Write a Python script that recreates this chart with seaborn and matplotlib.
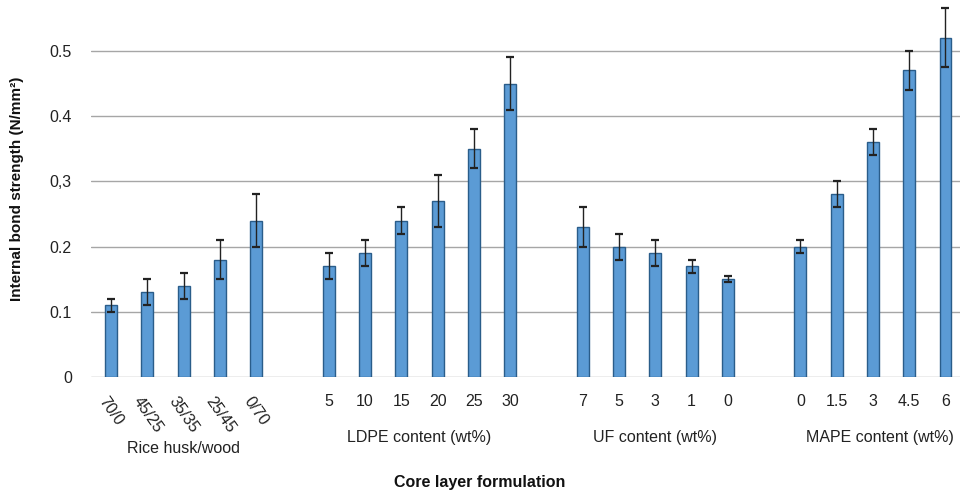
import numpy as np
import pandas as pd
import matplotlib
matplotlib.use("Agg")
import matplotlib.pyplot as plt
import seaborn as sns

# four formulation groups
rice_labels = ["70/0", "45/25", "35/35", "25/45", "0/70"]
rice_values = [0.11, 0.13, 0.14, 0.18, 0.24]
rice_errors = [0.01, 0.02, 0.02, 0.03, 0.04]

ldpe_labels = ["5", "10", "15", "20", "25", "30"]
ldpe_values = [0.17, 0.19, 0.24, 0.27, 0.35, 0.45]
ldpe_errors = [0.02, 0.02, 0.02, 0.04, 0.03, 0.04]

uf_labels = ["7", "5", "3", "1", "0"]
uf_values = [0.23, 0.20, 0.19, 0.17, 0.15]
uf_errors = [0.03, 0.02, 0.02, 0.01, 0.005]

mape_labels = ["0", "1.5", "3", "4.5", "6"]
mape_values = [0.20, 0.28, 0.36, 0.47, 0.52]
mape_errors = [0.01, 0.02, 0.02, 0.03, 0.045]

group_names = ["Rice husk/wood", "LDPE content (wt%)", "UF content (wt%)", "MAPE content (wt%)"]
y_ticks = [0, 0.1, 0.2, 0.3, 0.4, 0.5]
y_ticklabels = ["0", "0.1", "0.2", "0,3", "0.4", "0.5"]

groups = [
    (rice_labels, rice_values, rice_errors),
    (ldpe_labels, ldpe_values, ldpe_errors),
    (uf_labels, uf_values, uf_errors),
    (mape_labels, mape_values, mape_errors),
]

# one empty slot between groups
rows = []
pos = 0
for g, (labels, values, errors) in enumerate(groups):
    for lab, v, e in zip(labels, values, errors):
        rows.append({"pos": pos, "label": lab, "value": v, "err": e, "group": g})
        pos += 1
    pos += 1
df = pd.DataFrame(rows)

sns.set_style("white")
plt.rcParams["font.family"] = ["Liberation Sans", "DejaVu Sans"]

fig = plt.figure(figsize=(9.6, 4.91), dpi=100)
ax = fig.add_axes([0.095, 0.232, 0.905, 0.768])

sns.barplot(data=df, x="pos", y="value", native_scale=True, width=0.33,
            color="#5B9BD5", edgecolor="#2A5D8A", linewidth=1.0,
            saturation=1, errorbar=None, ax=ax, zorder=3)
ax.errorbar(df["pos"], df["value"], yerr=df["err"], fmt="none",
            ecolor="#222222", elinewidth=1.0, capsize=3, capthick=1.6, zorder=4)

ax.set_xlim(-0.55, df["pos"].max() + 0.4)
ax.set_ylim(0, 0.578)
ax.set_yticks(y_ticks)
ax.set_yticklabels(y_ticklabels, fontsize=11.5, color="#222222")
ax.yaxis.grid(True, color="#A6A6A6", linewidth=1.0, zorder=0)
ax.set_axisbelow(True)
for s in ax.spines.values():
    s.set_visible(False)
ax.tick_params(axis="y", length=0, pad=14)
ax.tick_params(axis="x", length=0, pad=12)

ax.set_xticks(df["pos"])
ax.set_xticklabels(df["label"], fontsize=11.5, color="#222222")
for t, g in zip(ax.get_xticklabels(), df["group"]):
    if g == 0:
        t.set_rotation(-55)
        t.set_ha("center")
        t.set_va("top")

ax.set_xlabel("")
ax.set_ylabel("Internal bond strength (N/mm\u00b2)", fontsize=11, fontweight="bold",
              color="#111111", labelpad=18)

# group captions under the ticks
group_y = [-0.19, -0.16, -0.16, -0.16]
for g, name in enumerate(group_names):
    sub = df[df["group"] == g]
    xc = sub["pos"].mean()
    if g == 3:
        xc += 0.2
    ax.text(xc, group_y[g], name, transform=ax.get_xaxis_transform(),
            ha="center", va="center", fontsize=11.5, color="#222222")

fig.text(0.5, 0.018, "Core layer formulation", ha="center", va="center",
         fontsize=11.5, fontweight="bold", color="#111111")

fig.savefig("out.png", dpi=100)
